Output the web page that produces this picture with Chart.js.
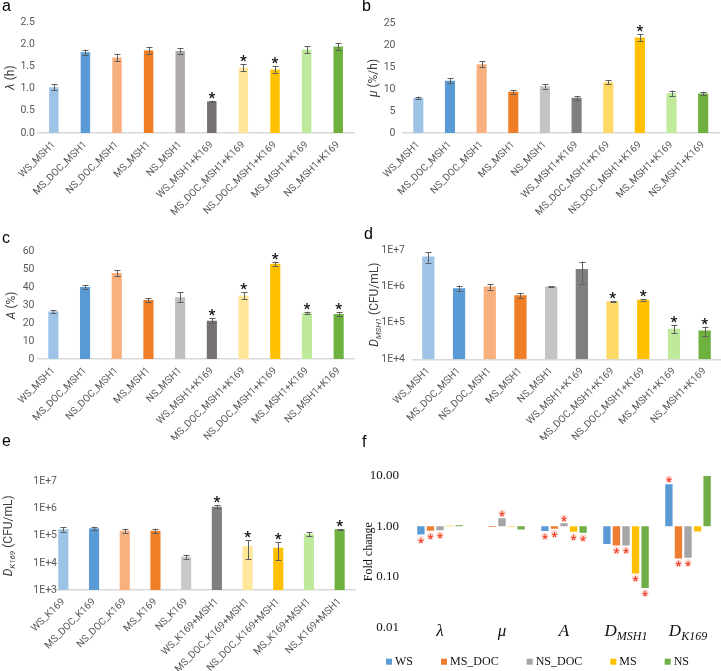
<!DOCTYPE html>
<html lang="en">
<head>
  <meta charset="UTF-8">
  <title>Growth parameters, densities and fold change</title>
  <script src="https://cdn.jsdelivr.net/npm/chart.js@4"></script>
  <style>
    body { margin: 0; background: #fff; }
    #fig { position: relative; width: 721px; height: 671px; overflow: hidden; background: #fff; }
    #fig canvas { position: absolute; }
    .tag { position: absolute; font: 16px/16px 'Liberation Sans', Arial, sans-serif; color: #000; }
  </style>
</head>
<body>
  <div id="fig">
    <canvas id="chartA" width="360" height="220" style="left:0;top:0"></canvas>
    <canvas id="chartB" width="361" height="220" style="left:360px;top:0"></canvas>
    <canvas id="chartC" width="360" height="220" style="left:0;top:220px"></canvas>
    <canvas id="chartD" width="361" height="220" style="left:360px;top:220px"></canvas>
    <canvas id="chartE" width="360" height="231" style="left:0;top:440px"></canvas>
    <canvas id="chartF" width="361" height="231" style="left:360px;top:440px"></canvas>
    <div class="tag" style="left:2px;top:-2px">a</div>
    <div class="tag" style="left:362px;top:-2px">b</div>
    <div class="tag" style="left:2px;top:230px">c</div>
    <div class="tag" style="left:364px;top:226px">d</div>
    <div class="tag" style="left:2px;top:433px">e</div>
    <div class="tag" style="left:362px;top:434px">f</div>
  </div>

  <script>
    // categories
    const catMSH1 = ['WS_MSH1', 'MS_DOC_MSH1', 'NS_DOC_MSH1', 'MS_MSH1', 'NS_MSH1',
      'WS_MSH1+K169', 'MS_DOC_MSH1+K169', 'NS_DOC_MSH1+K169', 'MS_MSH1+K169', 'NS_MSH1+K169'];
    const catK169 = ['WS_K169', 'MS_DOC_K169', 'NS_DOC_K169', 'MS_K169', 'NS_K169',
      'WS_K169+MSH1', 'MS_DOC_K169+MSH1', 'NS_DOC_K169+MSH1', 'MS_K169+MSH1', 'NS_K169+MSH1'];

    // a: lag time (h)
    const lagMean = [1.03, 1.82, 1.70, 1.86, 1.85, 0.71, 1.47, 1.43, 1.88, 1.95];
    const lagErr  = [0.07, 0.06, 0.08, 0.07, 0.06, 0.02, 0.08, 0.07, 0.08, 0.07];
    const lagSig  = [0, 0, 0, 0, 0, 1, 1, 1, 0, 0];
    const lagTicks = [0, 0.5, 1.0, 1.5, 2.0, 2.5];

    // b: growth rate (%/h)
    const muMean = [7.98, 11.9, 15.6, 9.35, 10.6, 8.0, 11.55, 21.7, 9.05, 9.0];
    const muErr  = [0.3, 0.5, 0.7, 0.4, 0.5, 0.4, 0.5, 0.8, 0.6, 0.4];
    const muSig  = [0, 0, 0, 0, 0, 0, 0, 1, 0, 0];
    const muTicks = [0, 5, 10, 15, 20, 25];

    // c: A (%)
    const aMean = [26.5, 40.2, 48.1, 33.0, 34.5, 21.4, 35.4, 53.3, 25.7, 25.2];
    const aErr  = [0.8, 0.9, 1.6, 1.0, 2.8, 1.4, 2.0, 1.1, 0.8, 0.9];
    const aSig  = [0, 0, 0, 0, 0, 1, 1, 1, 1, 1];
    const aTicks = [0, 10, 20, 30, 40, 50, 60];

    // d: D MSH1 (CFU/mL)
    const dMsh1Mean = [6.6e6, 8.9e5, 9.9e5, 5.7e5, 9.9e5, 3.0e6, 3.9e5, 4.3e5, 6.9e4, 6.2e4];
    const dMsh1Err  = [2.1e6, 1.6e5, 1.8e5, 0.8e5, 0.4e5, 1.8e6, 0.1e5, 0.2e5, 1.7e4, 1.7e4];
    const dMsh1Sig  = [0, 0, 0, 0, 0, 0, 1, 1, 1, 1];
    const dMsh1Ticks = [1e4, 1e5, 1e6, 1e7];

    // e: D K169 (CFU/mL)
    const dK169Mean = [1.74e5, 1.89e5, 1.55e5, 1.55e5, 1.7e4, 1.19e6, 4.2e4, 3.6e4, 1.18e5, 1.74e5];
    const dK169Err  = [0.3e5, 0.3e5, 0.3e5, 0.3e5, 0.3e4, 1.5e5, 2.8e4, 2.3e4, 0.2e5, 0.05e5];
    const dK169Sig  = [0, 0, 0, 0, 0, 1, 1, 1, 0, 1];
    const dK169Ticks = [1e3, 1e4, 1e5, 1e6, 1e7];

    // f: fold change (co-culture / mono-culture)
    const foldCatMain = ['λ', 'μ', 'A', 'D', 'D'];
    const foldCatSub  = ['', '', '', 'MSH1', 'K169'];
    const foldSeries  = ['WS', 'MS_DOC', 'NS_DOC', 'MS', 'NS'];
    const foldWS    = [0.69, 1.01, 0.81, 0.45, 6.8];
    const foldMSDOC = [0.82, 0.975, 0.90, 0.42, 0.233];
    const foldNSDOC = [0.84, 1.44, 1.15, 0.42, 0.24];
    const foldMS    = [1.03, 0.98, 0.78, 0.118, 0.79];
    const foldNS    = [1.05, 0.87, 0.75, 0.061, 10];
    const foldSigWS    = [1, 0, 1, 0, 1];
    const foldSigMSDOC = [1, 0, 1, 1, 1];
    const foldSigNSDOC = [1, 1, 1, 1, 1];
    const foldSigMS    = [0, 0, 1, 1, 0];
    const foldSigNS    = [0, 0, 1, 1, 0];
    const foldTicks = [0.01, 0.1, 1, 10];

    const SANS = "Roboto, 'Liberation Sans', Arial, sans-serif";
    const SERIF = "'Liberation Serif', 'Times New Roman', serif";

    const colA = ['#9DC3E6', '#5B9BD5', '#F8B07E', '#F07E26', '#AEAAAA', '#767171', '#FFE699', '#FFC000', '#C0EA9B', '#6FB13F'];
    const colB = ['#9DC3E6', '#5B9BD5', '#F8B07E', '#F07E26', '#C4C4C4', '#7F7F7F', '#FFD966', '#FFC000', '#C0EA9B', '#6FB13F'];
    const colC = ['#9DC3E6', '#5B9BD5', '#F8B07E', '#F07E26', '#BFBFBF', '#767171', '#FFE699', '#FFC000', '#C0EA9B', '#6FB13F'];
    const colE = ['#9DC3E6', '#5B9BD5', '#F8B07E', '#F07E26', '#C9C9C9', '#7F7F7F', '#FFE699', '#FFC000', '#C0EA9B', '#6FB13F'];
    const foldColors = ['#5B9BD5', '#ED7D31', '#A5A5A5', '#FFC000', '#70AD47'];

    // draw a run of text pieces (italic / subscript) centred on x
    function drawParts(ctx, parts, x, y, size, family, color) {
      const fontOf = p => (p.i ? 'italic ' : '') + (p.sub ? Math.round(size * 0.7) : size) + 'px ' + family;
      let w = 0;
      parts.forEach(p => { ctx.font = fontOf(p); w += ctx.measureText(p.t).width; });
      let cx = x - w / 2;
      ctx.fillStyle = color;
      ctx.textAlign = 'left';
      ctx.textBaseline = 'alphabetic';
      parts.forEach(p => {
        ctx.font = fontOf(p);
        ctx.fillText(p.t, cx, y + (p.sub ? size * 0.28 : 0));
        cx += ctx.measureText(p.t).width;
      });
    }

    // error bars + significance stars
    const errorBars = {
      id: 'errorBars',
      afterDatasetsDraw(chart, args, opts) {
        if (!opts.err) return;
        const { ctx } = chart;
        const y = chart.scales.y;
        const vals = chart.data.datasets[0].data;
        const meta = chart.getDatasetMeta(0);
        ctx.save();
        ctx.strokeStyle = '#5f5f5f';
        ctx.lineWidth = 1;
        meta.data.forEach((bar, i) => {
          const hi = y.getPixelForValue(vals[i] + opts.err[i]);
          const lo = y.getPixelForValue(vals[i] - opts.err[i]);
          const x = Math.round(bar.x) + 0.5;
          ctx.beginPath();
          ctx.moveTo(x, hi); ctx.lineTo(x, lo);
          ctx.moveTo(x - 3, Math.round(hi) + 0.5); ctx.lineTo(x + 3, Math.round(hi) + 0.5);
          ctx.moveTo(x - 3, Math.round(lo) + 0.5); ctx.lineTo(x + 3, Math.round(lo) + 0.5);
          ctx.stroke();
          if (opts.sig[i]) {
            ctx.fillStyle = '#111';
            ctx.font = 'bold 15px ' + SANS;
            ctx.textAlign = 'center';
            ctx.textBaseline = 'alphabetic';
            ctx.fillText('*', bar.x, hi + 2);
          }
        });
        ctx.restore();
      }
    };

    // rotated y-axis title, plus optional y tick text placed freely (panel e)
    const yTitle = {
      id: 'yTitle',
      beforeDatasetsDraw(chart, args, opts) {
        if (!opts.tickRight) return;
        const { ctx } = chart;
        const y = chart.scales.y;
        ctx.save();
        ctx.fillStyle = '#595959';
        ctx.font = '10.5px ' + SANS;
        ctx.textAlign = 'right';
        ctx.textBaseline = 'middle';
        opts.tickValues.forEach(v => ctx.fillText(opts.tickFmt(v), opts.tickRight, y.getPixelForValue(v)));
        ctx.restore();
      },
      afterDraw(chart, args, opts) {
        if (!opts.parts) return;
        const { ctx, chartArea } = chart;
        const size = opts.size || 12;
        ctx.save();
        ctx.translate(opts.x, (chartArea.top + chartArea.bottom) / 2);
        ctx.rotate(-Math.PI / 2);
        drawParts(ctx, opts.parts, 0, size * 0.35, size, opts.family || SANS, opts.color || '#404040');
        ctx.restore();
      }
    };

    Chart.register(errorBars, yTitle);

    function barPanel(id, o) {
      return new Chart(document.getElementById(id), {
        type: 'bar',
        data: {
          labels: o.labels,
          datasets: [{ data: o.mean, backgroundColor: o.colors, barPercentage: o.barPct, categoryPercentage: 1 }]
        },
        options: {
          responsive: false,
          animation: false,
          layout: { padding: { top: o.area.top, right: o.w - o.area.right, left: 0, bottom: 0 } },
          plugins: {
            legend: { display: false },
            tooltip: { enabled: false },
            errorBars: { err: o.err, sig: o.sig },
            yTitle: {
              parts: o.title, x: o.titleX,
              tickRight: o.tickRight, tickValues: o.ticks, tickFmt: o.fmt
            }
          },
          scales: {
            x: {
              grid: { display: false, drawTicks: false },
              border: { color: '#d9d9d9', width: 1.5 },
              ticks: {
                autoSkip: false, minRotation: 45, maxRotation: 45, padding: 6,
                color: '#595959', font: { family: SANS, size: 10 }
              },
              afterFit: s => { s.height = o.h - o.area.bottom; }
            },
            y: {
              type: o.log ? 'logarithmic' : 'linear',
              min: o.ticks[0],
              max: o.ticks[o.ticks.length - 1],
              grid: { display: false, drawTicks: false },
              border: { display: false },
              ticks: {
                display: !o.tickRight, padding: o.tickPad, color: '#595959',
                font: { family: SANS, size: 10.5 }, callback: o.fmt
              },
              afterBuildTicks: s => { s.ticks = o.ticks.map(v => ({ value: v })); },
              afterFit: s => { s.width = o.area.left; }
            }
          }
        }
      });
    }

    const sciFmt = v => '1E+' + Math.round(Math.log10(v));

    barPanel('chartA', {
      w: 360, h: 220, area: { left: 38, right: 354, top: 22, bottom: 133 },
      labels: catMSH1, mean: lagMean, err: lagErr, sig: lagSig, colors: colA,
      ticks: lagTicks, fmt: v => v.toFixed(1), barPct: 0.3, tickPad: 3,
      title: [{ t: 'λ', i: true }, { t: ' (h)' }], titleX: 10
    });

    barPanel('chartB', {
      w: 361, h: 220, area: { left: 42.5, right: 359, top: 23, bottom: 133 },
      labels: catMSH1, mean: muMean, err: muErr, sig: muSig, colors: colB,
      ticks: muTicks, fmt: v => String(v), barPct: 0.32, tickPad: 7,
      title: [{ t: 'μ', i: true }, { t: ' (%/h)' }], titleX: 13
    });

    barPanel('chartC', {
      w: 360, h: 220, area: { left: 37.5, right: 354.5, top: 31.7, bottom: 139 },
      labels: catMSH1, mean: aMean, err: aErr, sig: aSig, colors: colC,
      ticks: aTicks, fmt: v => String(v), barPct: 0.32, tickPad: 3,
      title: [{ t: 'A', i: true }, { t: ' (%)' }], titleX: 11
    });

    barPanel('chartD', {
      w: 361, h: 220, area: { left: 53, right: 360, top: 30, bottom: 139.3 },
      labels: catMSH1, mean: dMsh1Mean, err: dMsh1Err, sig: dMsh1Sig, colors: colB, log: true,
      ticks: dMsh1Ticks, fmt: sciFmt, barPct: 0.4, tickPad: 8,
      title: [{ t: 'D', i: true }, { t: 'MSH1', i: true, sub: true }, { t: ' (CFU/mL)' }], titleX: 13.5
    });

    // tick text of e runs past the plot's left edge, so it is drawn by the plugin
    barPanel('chartE', {
      w: 360, h: 231, area: { left: 48, right: 355, top: 41.7, bottom: 150 },
      labels: catK169, mean: dK169Mean, err: dK169Err, sig: dK169Sig, colors: colE, log: true,
      ticks: dK169Ticks, fmt: sciFmt, barPct: 0.33, tickPad: 0, tickRight: 57,
      title: [{ t: 'D', i: true }, { t: 'K169', i: true, sub: true }, { t: ' (CFU/mL)' }], titleX: 7.5
    });

    // f: category labels, red stars and legend
    const foldVals = [foldWS, foldMSDOC, foldNSDOC, foldMS, foldNS];
    const foldSig = [foldSigWS, foldSigMSDOC, foldSigNSDOC, foldSigMS, foldSigNS];

    const foldDecor = {
      id: 'foldDecor',
      afterDatasetsDraw(chart) {
        const { ctx, chartArea } = chart;
        const x = chart.scales.x, y = chart.scales.y;
        ctx.save();
        // stars
        foldVals.forEach((vals, k) => {
          const meta = chart.getDatasetMeta(k);
          vals.forEach((v, i) => {
            if (!foldSig[k][i]) return;
            const bar = meta.data[i];
            const py = y.getPixelForValue(v);
            const cy = v < 1 ? py + 5 : py - 5;
            ctx.fillStyle = 'rgba(250,130,110,0.3)';
            ctx.beginPath();
            ctx.arc(bar.x, cy, 3.6, 0, Math.PI * 2);
            ctx.fill();
            ctx.fillStyle = '#EE3A20';
            ctx.font = 'bold 12px ' + SANS;
            ctx.textAlign = 'center';
            ctx.textBaseline = 'alphabetic';
            ctx.fillText('*', bar.x, cy + 7);
          });
        });
        // category labels
        foldCatMain.forEach((m, i) => {
          const parts = [{ t: m, i: true }];
          if (foldCatSub[i]) parts.push({ t: foldCatSub[i], i: true, sub: true });
          drawParts(ctx, parts, x.getPixelForValue(i), chartArea.bottom + 8, 17, SERIF, '#111');
        });
        // legend
        ctx.font = '12px ' + SERIF;
        const box = 6, gap = 3, sp = 28;
        const widths = foldSeries.map(s => box + gap + ctx.measureText(s).width);
        const total = widths.reduce((a, b) => a + b, 0) + sp * (foldSeries.length - 1);
        let lx = 177.5 - total / 2;
        const ly = 221.7;
        foldSeries.forEach((s, k) => {
          ctx.fillStyle = foldColors[k];
          ctx.fillRect(lx, ly - 3, box, box);
          ctx.fillStyle = '#111';
          ctx.textAlign = 'left';
          ctx.textBaseline = 'middle';
          ctx.font = '12px ' + SERIF;
          ctx.fillText(s, lx + box + gap, ly);
          lx += widths[k] + sp;
        });
        ctx.restore();
      }
    };

    new Chart(document.getElementById('chartF'), {
      type: 'bar',
      data: {
        labels: foldCatMain.map((m, i) => m + foldCatSub[i]),
        datasets: foldSeries.map((name, k) => ({
          label: name,
          data: foldVals[k].map(v => [1, v]),
          backgroundColor: foldColors[k],
          barPercentage: 0.77,
          categoryPercentage: 0.77
        }))
      },
      options: {
        responsive: false,
        animation: false,
        layout: { padding: { top: 35.7, right: 2, left: 0, bottom: 0 } },
        plugins: {
          legend: { display: false },
          tooltip: { enabled: false },
          yTitle: { parts: [{ t: 'Fold change' }], x: 7.5, family: SERIF, color: '#111', size: 12 }
        },
        scales: {
          x: {
            grid: { display: false, drawTicks: false },
            border: { display: false },
            ticks: { display: false },
            afterFit: s => { s.height = 231 - 187.7; }
          },
          y: {
            type: 'logarithmic',
            min: foldTicks[0],
            max: foldTicks[foldTicks.length - 1],
            grid: { display: false, drawTicks: false },
            border: { display: false },
            ticks: { padding: 10, color: '#111', font: { family: SERIF, size: 13 }, callback: v => v.toFixed(2) },
            afterBuildTicks: s => { s.ticks = foldTicks.map(v => ({ value: v })); },
            afterFit: s => { s.width = 49; }
          }
        }
      },
      plugins: [foldDecor]
    });
  </script>
</body>
</html>
